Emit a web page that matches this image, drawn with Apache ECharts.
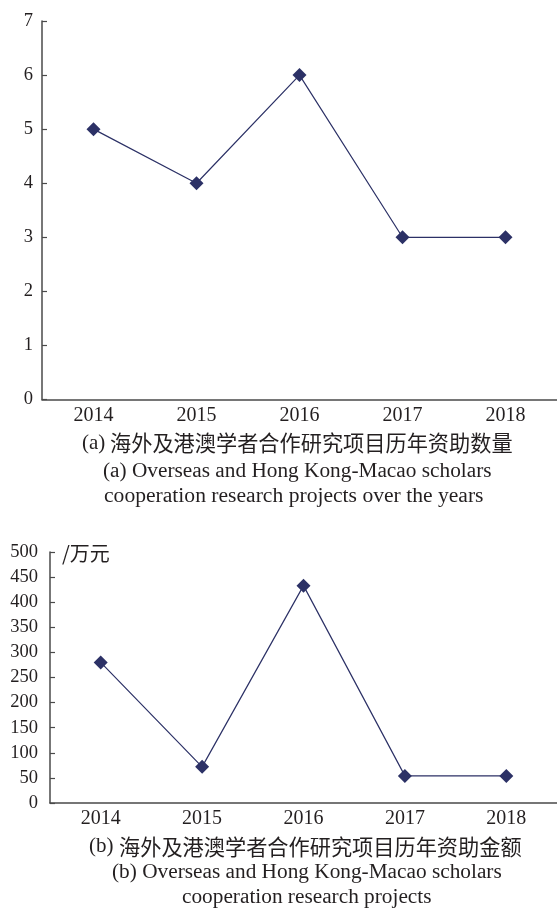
<!DOCTYPE html>
<html>
<head>
<meta charset="utf-8">
<script src="https://cdn.jsdelivr.net/npm/echarts@6/dist/echarts.min.js"></script>
<style>
  html, body { margin: 0; padding: 0; background: #fff; }
  #chart { width: 557px; height: 910px; }
</style>
</head>
<body>
<div id="chart"></div>
<script>
// Funding of overseas and HK-Macao scholar cooperation projects, 2014-2018
const years = ['2014', '2015', '2016', '2017', '2018'];
const projectCounts = [5, 4, 6, 3, 3];          // number of funded projects
const fundingAmounts = [280, 72, 433, 54, 54];   // funding, 10k CNY
const countAxis = { min: 0, max: 7, interval: 1 };
const amountAxis = { min: 0, max: 500, interval: 50 };
const amountUnit = '/万元';

const captionA = ['(a)', '海外及港澳学者合作研究项目历年资助数量',
  '(a) Overseas and Hong Kong-Macao scholars',
  'cooperation research projects over the years'];
const captionB = ['(b)', '海外及港澳学者合作研究项目历年资助金额',
  '(b) Overseas and Hong Kong-Macao scholars',
  'cooperation research projects'];

const SERIF = "'Liberation Serif', 'Times New Roman', serif";
const CJK = "'Noto Sans CJK SC', sans-serif";
const INK = '#231f20';
const AXIS = '#4a4a4a';
const MARK = '#2c3166';

function xAxisOf(gridIndex) {
  return {
    type: 'category', gridIndex, data: years, boundaryGap: true,
    axisLine: { lineStyle: { color: AXIS, width: 1.5 } },
    axisTick: { inside: true, length: 4, lineStyle: { color: AXIS, width: 1.2 } },
    axisLabel: { color: INK, fontFamily: SERIF, fontSize: 20, margin: 6 },
    splitLine: { show: false }
  };
}
function yAxisOf(gridIndex, cfg, margin) {
  return {
    type: 'value', gridIndex, min: cfg.min, max: cfg.max, interval: cfg.interval,
    axisLine: { show: true, lineStyle: { color: AXIS, width: 1.5 } },
    axisTick: { show: true, inside: true, length: 5, lineStyle: { color: AXIS, width: 1.2 } },
    axisLabel: { color: INK, fontFamily: SERIF, fontSize: 18.5, margin },
    splitLine: { show: false }
  };
}
function lineOf(idx, data) {
  return {
    type: 'line', xAxisIndex: idx, yAxisIndex: idx, data,
    symbol: 'diamond', symbolSize: 14,
    itemStyle: { color: MARK },
    lineStyle: { color: MARK, width: 1.2 },
    animation: false
  };
}
// text placed by its vertical centre
function label(left, centerY, text, size, family) {
  return {
    type: 'text', left, top: centerY - size / 2,
    style: { text, fill: INK, font: size + 'px ' + family }
  };
}

const chart = echarts.init(document.getElementById('chart'), null, { renderer: 'canvas' });
chart.setOption({
  backgroundColor: '#fff',
  animation: false,
  grid: [
    { left: 42, top: 21, width: 515, height: 378.5 },
    { left: 50, top: 552, width: 514, height: 251 }
  ],
  xAxis: [xAxisOf(0), xAxisOf(1)],
  yAxis: [yAxisOf(0, countAxis, 9), yAxisOf(1, amountAxis, 12)],
  series: [lineOf(0, projectCounts), lineOf(1, fundingAmounts)],
  graphic: [
    label(62, 553, amountUnit, 20, CJK),
    label(82, 443, captionA[0], 21, SERIF),
    label(110, 443, captionA[1], 21.2, CJK),
    label(103, 471.5, captionA[2], 21.3, SERIF),
    label(104, 496.5, captionA[3], 21.6, SERIF),
    label(89, 846.5, captionB[0], 21, SERIF),
    label(119, 846.5, captionB[1], 21.2, CJK),
    label(112, 873, captionB[2], 21.3, SERIF),
    label(182, 898, captionB[3], 21.3, SERIF)
  ]
});
</script>
</body>
</html>
